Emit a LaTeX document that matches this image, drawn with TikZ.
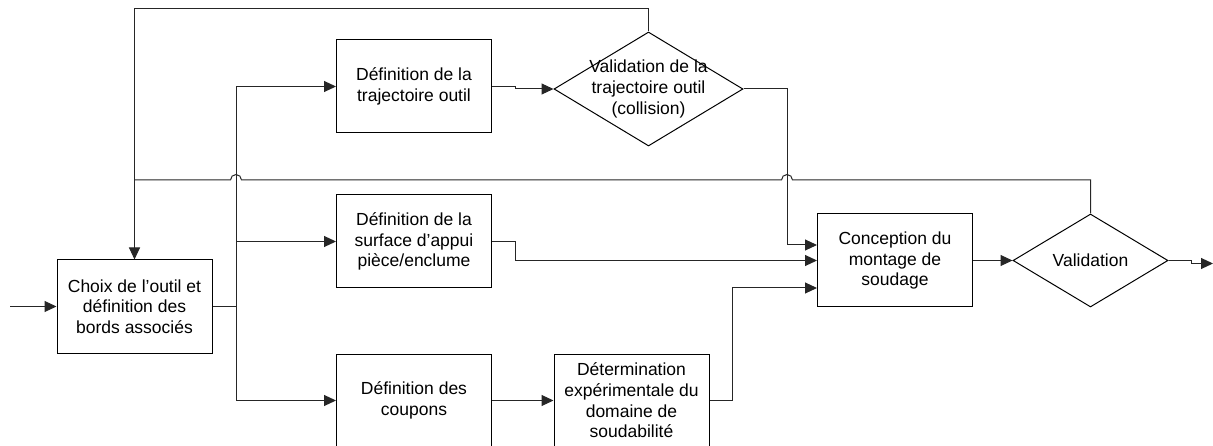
\documentclass[tikz,border=0pt]{standalone}
\usepackage{fontspec}
\setmainfont{Liberation Sans}
\usetikzlibrary{shapes.geometric,arrows.meta}
\begin{document}
\begin{tikzpicture}[x=1pt,y=-1pt,
 txt/.style={align=center, font=\fontsize{17.5}{20.6}\selectfont, inner sep=0pt},
 box/.style={txt, draw, line width=1pt, minimum width=155pt, minimum height=93pt},
 dia/.style={draw, diamond, line width=1pt, inner sep=0pt},
 conn/.style={line width=1pt, draw=black!85},
 arr/.style={conn, -{Triangle[length=12pt,width=11pt]}}]
\useasboundingbox (0,0) rectangle (1213,446);
\clip (0,0) rectangle (1213,446);
% nodes
\node[box] (choix) at (134.5,306.5) {Choix de l'outil et\\définition des\\bords associés};
\node[box] (b1) at (414,86.5) {Définition de la\\trajectoire outil};
\node[box] (b2) at (414,241.5) {Définition de la\\surface d'appui\\pièce/enclume};
\node[box] (b3) at (414,400.5) {Définition des\\coupons};
\node[box] (det) at (631.5,400.5) {Détermination\\expérimentale du\\domaine de\\soudabilité};
\node[dia, minimum width=189pt, minimum height=114pt] (d1) at (648.5,89) {};
\node[txt] (d1t) at (d1.center) {Validation de la\\trajectoire outil\\(collision)};
\node[box] (conc) at (895,260.5) {Conception du\\montage de\\soudage};
\node[dia, minimum width=155pt, minimum height=93pt] (val) at (1090.5,260.5) {};
\node[txt] (valt) at (val.center) {Validation};
\coordinate (in) at (10,306.5);
\coordinate (out) at (1213,263.5);
\coordinate (br) at (236,306.5);
% connectors
\draw[arr] (in) -- (choix.west);
\draw[conn] (choix.east) -- (br);
\draw[arr] (br) |- (b1.west);
\draw[arr] (br) |- (b2.west);
\draw[arr] (br) |- (b3.west);
\draw[arr] (b1.east) -- ++(23,0) |- (d1.west);
\draw[arr] (d1.east) -| (787,245) -- ([yshift=15.5pt]conc.west);
\draw[arr] (b2.east) -- ++(23,0) |- (conc.west);
\draw[arr] (b3.east) -- (det.west);
\draw[arr] (det.east) -- ++(23,0) |- ([yshift=-27.5pt]conc.west);
\draw[arr] (conc.east) -- (val.west);
\draw[arr] (val.east) -- ++(23,0) -- ++(0,3) -- (out);
\draw[arr] (d1.north) -- (648.5,9) -| (choix.north);
\draw[conn] (val.north) -- (1090.5,180) -- (792.5,180)
   arc[start angle=0,end angle=180,radius=5.5pt] -- (241.5,180)
   arc[start angle=0,end angle=180,radius=5.5pt] -- (134.5,180);
\end{tikzpicture}
\end{document}
